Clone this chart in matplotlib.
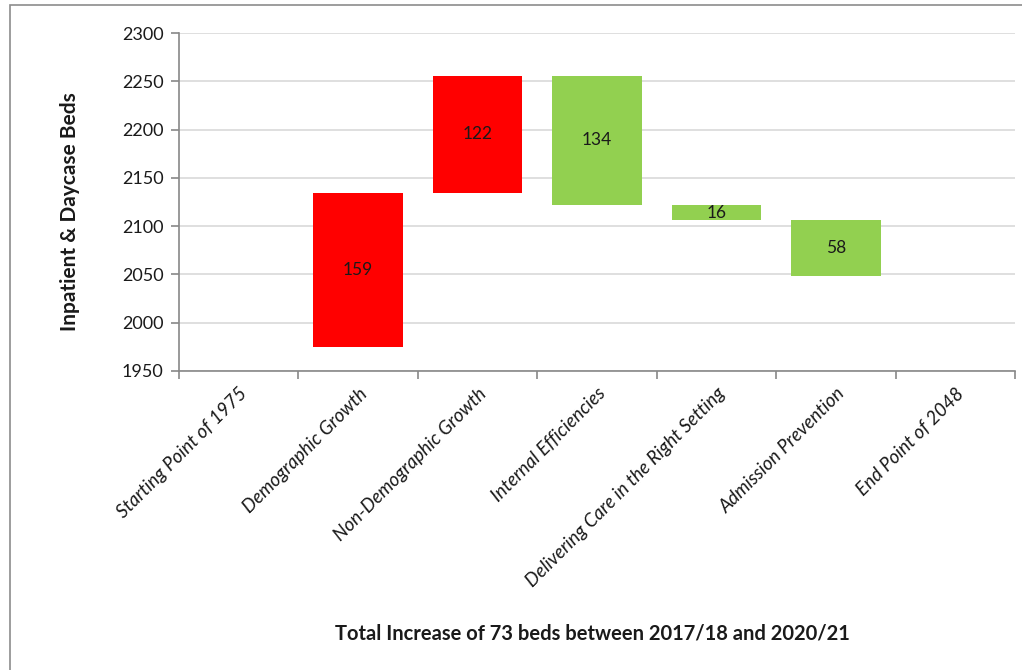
import matplotlib.pyplot as plt
from matplotlib.patches import Rectangle

plt.rcParams['font.family'] = ['Lato', 'DejaVu Sans']

categories = ['Starting Point of 1975', 'Demographic Growth', 'Non-Demographic Growth',
              'Internal Efficiencies', 'Delivering Care in the Right Setting',
              'Admission Prevention', 'End Point of 2048']
start_value = 1975
changes = [159, 122, -134, -16, -58]
end_value = 2048
y_ticks = [1950, 2000, 2050, 2100, 2150, 2200, 2250, 2300]

red = '#FF0000'
green = '#92D050'

fig = plt.figure(figsize=(10.22, 6.7), dpi=100)
ax = fig.add_axes([0.1751, 0.4463, 0.8181, 0.5044])

# outer chart border (cut off at right/bottom like the screenshot)
fig.patches.append(Rectangle((10 / 1022, -0.1), 1.2, 1 - 5 / 670 + 0.1, transform=fig.transFigure,
                             fill=False, edgecolor='#8c8c8c', linewidth=1.2))

x = list(range(len(categories)))
width = 0.75

# invisible total bars
ax.bar(x[0], start_value, width=width, color='none')
ax.bar(x[-1], end_value, width=width, color='none')

running = start_value
for i, c in enumerate(changes):
    bottom = running if c > 0 else running + c
    col = red if c > 0 else green
    ax.bar(x[i + 1], abs(c), bottom=bottom, width=width, color=col, zorder=3)
    ax.text(x[i + 1], bottom + abs(c) / 2, str(abs(c)), ha='center', va='center',
            fontsize=12.5, color='#1a1a1a', zorder=4)
    running += c

ax.set_ylim(1950, 2300)
ax.set_xlim(-0.5, len(categories) - 0.5)
ax.set_yticks(y_ticks)
ax.set_yticklabels([str(v) for v in y_ticks], fontsize=13, color='#1a1a1a')
ax.yaxis.grid(True, color='#d9d9d9', linewidth=1.2, zorder=0)
ax.set_axisbelow(True)

ax.set_xticks(x)
ax.set_xticklabels(categories, rotation=45, ha='right', va='top', rotation_mode='anchor',
                   fontsize=13.5, style='italic', color='#1a1a1a')
ax.tick_params(axis='x', length=0, pad=10)
ax.set_xticks([i - 0.5 for i in range(len(categories) + 1)], minor=True)
ax.tick_params(axis='x', which='minor', length=6, color='#888888', width=1.2)
ax.tick_params(axis='y', length=6, color='#888888', width=1.2, pad=5)

for s in ['top', 'right']:
    ax.spines[s].set_visible(False)
for s in ['left', 'bottom']:
    ax.spines[s].set_color('#888888')
    ax.spines[s].set_linewidth(1.2)

fig.text(70 / 1022, 1 - 212 / 670, 'Inpatient & Daycase Beds', rotation=90, ha='center',
         va='center', fontsize=15, fontweight='bold', color='#1a1a1a')
fig.text(592 / 1022, 1 - 634 / 670, 'Total Increase of 73 beds between 2017/18 and 2020/21',
         ha='center', va='center', fontsize=14.5, fontweight='bold', color='#1a1a1a')

fig.savefig('out.png', dpi=100)
